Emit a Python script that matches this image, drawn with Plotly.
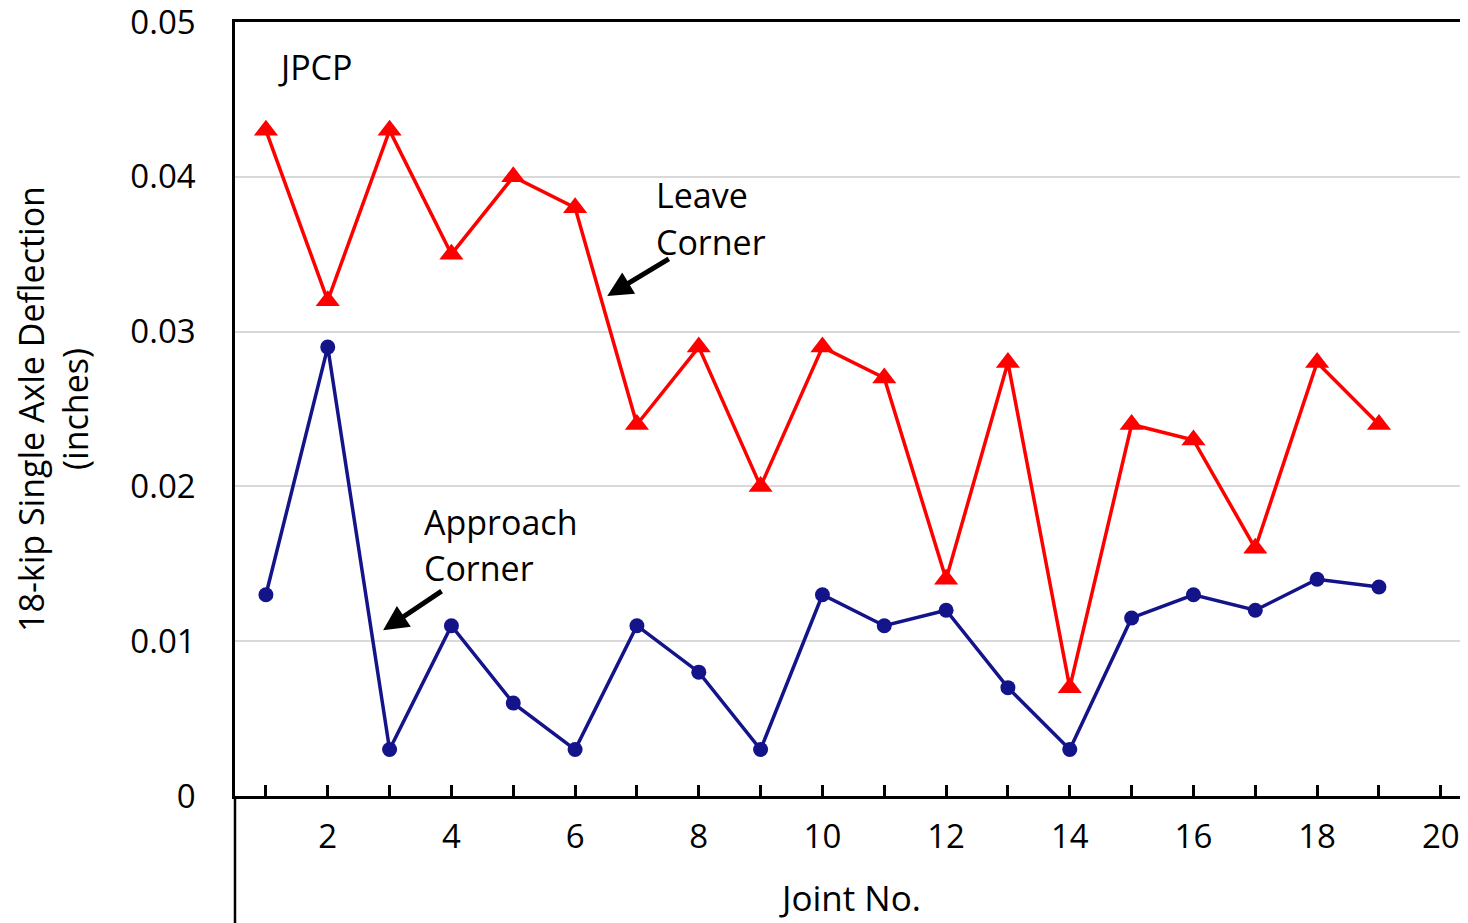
import plotly.graph_objects as go

joints = list(range(1, 20))
leave_corner = [0.043, 0.032, 0.043, 0.035, 0.040, 0.038, 0.024, 0.029, 0.020, 0.029,
                0.027, 0.014, 0.028, 0.007, 0.024, 0.023, 0.016, 0.028, 0.024]
approach_corner = [0.013, 0.029, 0.003, 0.011, 0.006, 0.003, 0.011, 0.008, 0.003, 0.013,
                   0.011, 0.012, 0.007, 0.003, 0.0115, 0.013, 0.012, 0.014, 0.0135]
x_tickvals = list(range(1, 21))
x_ticktext = [str(v) if v % 2 == 0 else "" for v in x_tickvals]
y_tickvals = [0, 0.01, 0.02, 0.03, 0.04, 0.05]
y_ticktext = ["0", "0.01", "0.02", "0.03", "0.04", "0.05"]

FONT = "Open Sans"

fig = go.Figure()
fig.add_trace(go.Scatter(x=joints, y=leave_corner, mode="lines+markers",
                         line=dict(color="#ff0000", width=3.5),
                         marker=dict(symbol="triangle-up", size=21, color="#ff0000"),
                         name="Leave Corner", showlegend=False))
fig.add_trace(go.Scatter(x=joints, y=approach_corner, mode="lines+markers",
                         line=dict(color="#14148a", width=3.5),
                         marker=dict(symbol="circle", size=15, color="#14148a"),
                         name="Approach Corner", showlegend=False))

def txt(x, y, s):
    fig.add_annotation(x=x, y=y, xref="x", yref="y", text=s, showarrow=False,
                       xanchor="left", yanchor="middle",
                       font=dict(family=FONT, size=34, color="black"))

txt(1.16, 0.0471, "JPCP")
txt(7.28, 0.0388, "Leave")
txt(7.28, 0.0358, "Corner")
txt(3.52, 0.0177, "Approach")
txt(3.52, 0.0147, "Corner")

for hx, hy, tx, ty in [(6.52, 0.0323, 7.54, 0.03475), (2.895, 0.0107, 3.865, 0.0133)]:
    fig.add_annotation(x=hx, y=hy, ax=tx, ay=ty, xref="x", yref="y", axref="x", ayref="y",
                       text="", showarrow=True, arrowhead=2, arrowsize=1.0,
                       arrowwidth=5, arrowcolor="black")

# y-axis line extending below the x axis
fig.add_shape(type="line", xref="paper", yref="paper", x0=0, x1=0, y0=0, y1=-0.2,
              line=dict(color="black", width=2.5))

fig.update_layout(
    width=1460, height=915,
    margin=dict(l=227, r=0, t=14, b=127),
    paper_bgcolor="white", plot_bgcolor="white",
    font=dict(family=FONT, size=33, color="black"),
    xaxis=dict(range=[0.5, 20.44], tickvals=x_tickvals, ticktext=x_ticktext,
               ticks="inside", ticklen=11, tickwidth=2.5, tickcolor="black",
               showline=True, linecolor="black", linewidth=2.5, mirror=True,
               showgrid=False, zeroline=False, ticklabelstandoff=10,
               ticklabeloverflow="allow", automargin=False,
               tickfont=dict(family=FONT, size=33, color="black"),
               title=dict(text="Joint No.", font=dict(family=FONT, size=35, color="black"),
                          standoff=30)),
    yaxis=dict(range=[0, 0.0500001], tickvals=y_tickvals, ticktext=y_ticktext,
               ticks="", showline=True, linecolor="black", linewidth=2.5,
               showgrid=True, gridcolor="#d9d9d9", gridwidth=1.5, zeroline=False,
               ticklabelstandoff=30, ticklabeloverflow="allow", automargin=False,
               tickfont=dict(family=FONT, size=33, color="black"),
               title=dict(text="18-kip Single Axle Deflection<br>(inches)",
                          font=dict(family=FONT, size=34, color="black"), standoff=38)),
)

fig.write_html("out.html")
